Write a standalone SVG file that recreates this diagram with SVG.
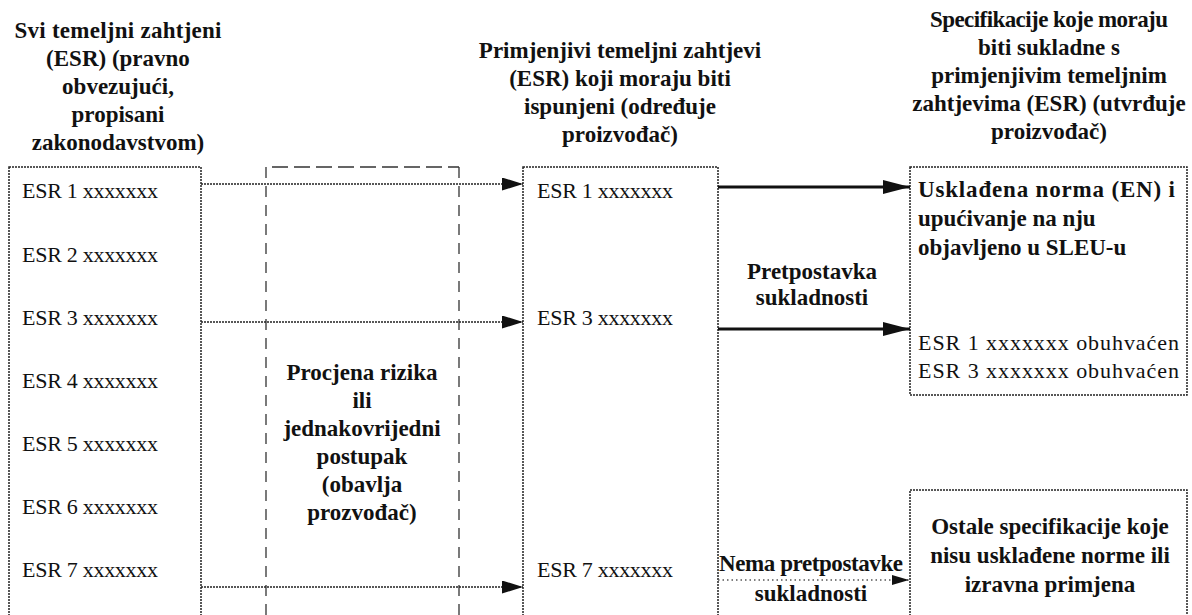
<svg xmlns="http://www.w3.org/2000/svg" width="1192" height="615" viewBox="0 0 1192 615">
<style>
.hd{font-family:"Liberation Serif",serif;font-weight:bold;font-size:23px;fill:#111;text-anchor:middle}
.bd{font-family:"Liberation Serif",serif;font-weight:bold;font-size:23px;fill:#111}
.rg{font-family:"Liberation Serif",serif;font-size:22px;fill:#111}
.box{fill:none;stroke:#222;stroke-width:1.5;stroke-dasharray:2 1}
.dash{fill:none;stroke:#333;stroke-width:1.3}
.thin{fill:none;stroke:#222;stroke-width:1.4;stroke-dasharray:2 1}
.thick{fill:none;stroke:#111;stroke-width:3}
.faint{fill:none;stroke:#555;stroke-width:1.3;stroke-dasharray:1.5 3}
</style>
<defs>
<marker id="ah" markerUnits="userSpaceOnUse" markerWidth="21" markerHeight="13" refX="21" refY="6.5" orient="auto">
<path d="M0,0 L21,6.5 L0,13 z" fill="#111"/>
</marker>
<marker id="ahb" markerUnits="userSpaceOnUse" markerWidth="27" markerHeight="14" refX="27" refY="7" orient="auto">
<path d="M0,0 L27,7 L0,14 z" fill="#111"/>
</marker>
<marker id="ahs" markerUnits="userSpaceOnUse" markerWidth="17" markerHeight="10" refX="17" refY="5" orient="auto">
<path d="M0,0 L17,5 L0,10 z" fill="#111"/>
</marker>
</defs>

<g id="headers">
<text class="hd" x="118" y="38" textLength="207">Svi temeljni zahtjeni</text>
<text class="hd" x="118" y="66">(ESR) (pravno</text>
<text class="hd" x="118" y="94">obvezujući,</text>
<text class="hd" x="118" y="122">propisani</text>
<text class="hd" x="118" y="150">zakonodavstvom)</text>
<text class="hd" x="620" y="58">Primjenjivi temeljni zahtjevi</text>
<text class="hd" x="620" y="86">(ESR) koji moraju biti</text>
<text class="hd" x="620" y="114">ispunjeni (određuje</text>
<text class="hd" x="620" y="142">proizvođač)</text>
<text class="hd" x="1049" y="27" textLength="238">Specifikacije koje moraju</text>
<text class="hd" x="1049" y="55">biti sukladne s</text>
<text class="hd" x="1049" y="83">primjenjivim temeljnim</text>
<text class="hd" x="1049" y="111">zahtjevima (ESR) (utvrđuje</text>
<text class="hd" x="1049" y="139">proizvođač)</text>
</g>

<g id="all-esr">
<rect class="box" x="9" y="167" width="192" height="460"/>
<text class="rg" x="22" y="198" textLength="136">ESR 1 xxxxxxx</text>
<text class="rg" x="22" y="262" textLength="136">ESR 2 xxxxxxx</text>
<text class="rg" x="22" y="325" textLength="136">ESR 3 xxxxxxx</text>
<text class="rg" x="22" y="388" textLength="136">ESR 4 xxxxxxx</text>
<text class="rg" x="22" y="451" textLength="136">ESR 5 xxxxxxx</text>
<text class="rg" x="22" y="514" textLength="136">ESR 6 xxxxxxx</text>
<text class="rg" x="22" y="577" textLength="136">ESR 7 xxxxxxx</text>
</g>

<g id="risk-assessment">
<path class="dash" d="M266,167 V615" stroke-dasharray="11 8"/>
<path class="dash" d="M459,167 V615" stroke-dasharray="11 8"/>
<path class="dash" d="M272,167 H459" stroke-dasharray="16 6"/>
<text class="hd" x="362" y="380">Procjena rizika</text>
<text class="hd" x="362" y="408">ili</text>
<text class="hd" x="362" y="436">jednakovrijedni</text>
<text class="hd" x="362" y="464">postupak</text>
<text class="hd" x="362" y="492">(obavlja</text>
<text class="hd" x="362" y="520">prozvođač)</text>
</g>

<g id="applicable-esr">
<rect class="box" x="523" y="167" width="195" height="460"/>
<text class="rg" x="537" y="198" textLength="136">ESR 1 xxxxxxx</text>
<text class="rg" x="537" y="325" textLength="136">ESR 3 xxxxxxx</text>
<text class="rg" x="537" y="577" textLength="136">ESR 7 xxxxxxx</text>
</g>

<g id="harmonised-standard">
<rect class="box" x="910" y="167" width="277" height="228"/>
<text class="bd" x="918" y="197" textLength="257">Usklađena norma (EN) i</text>
<text class="bd" x="918" y="226">upućivanje na nju</text>
<text class="bd" x="918" y="255">objavljeno u SLEU-u</text>
<text class="rg" x="918" y="350" textLength="261">ESR 1 xxxxxxx obuhvaćen</text>
<text class="rg" x="918" y="378" textLength="261">ESR 3 xxxxxxx obuhvaćen</text>
</g>

<g id="other-specs">
<rect class="box" x="910" y="490" width="277" height="140"/>
<text class="hd" x="1050" y="534">Ostale specifikacije koje</text>
<text class="hd" x="1050" y="563">nisu usklađene norme ili</text>
<text class="hd" x="1050" y="592">izravna primjena</text>
</g>

<g id="connectors">
<path class="thin" d="M201,184 H523" marker-end="url(#ah)"/>
<path class="thin" d="M201,322 H523" marker-end="url(#ah)"/>
<path class="thin" d="M201,587 H523" marker-end="url(#ah)"/>
<path class="thick" d="M718,187 H910" marker-end="url(#ahb)"/>
<path class="thick" d="M718,329 H910" marker-end="url(#ahb)"/>
<path class="faint" d="M718,580 H909" marker-end="url(#ahs)"/>
<text class="hd" x="812" y="279">Pretpostavka</text>
<text class="hd" x="812" y="305">sukladnosti</text>
<text class="hd" x="811" y="571" textLength="184">Nema pretpostavke</text>
<text class="hd" x="811" y="601">sukladnosti</text>
</g>
</svg>
